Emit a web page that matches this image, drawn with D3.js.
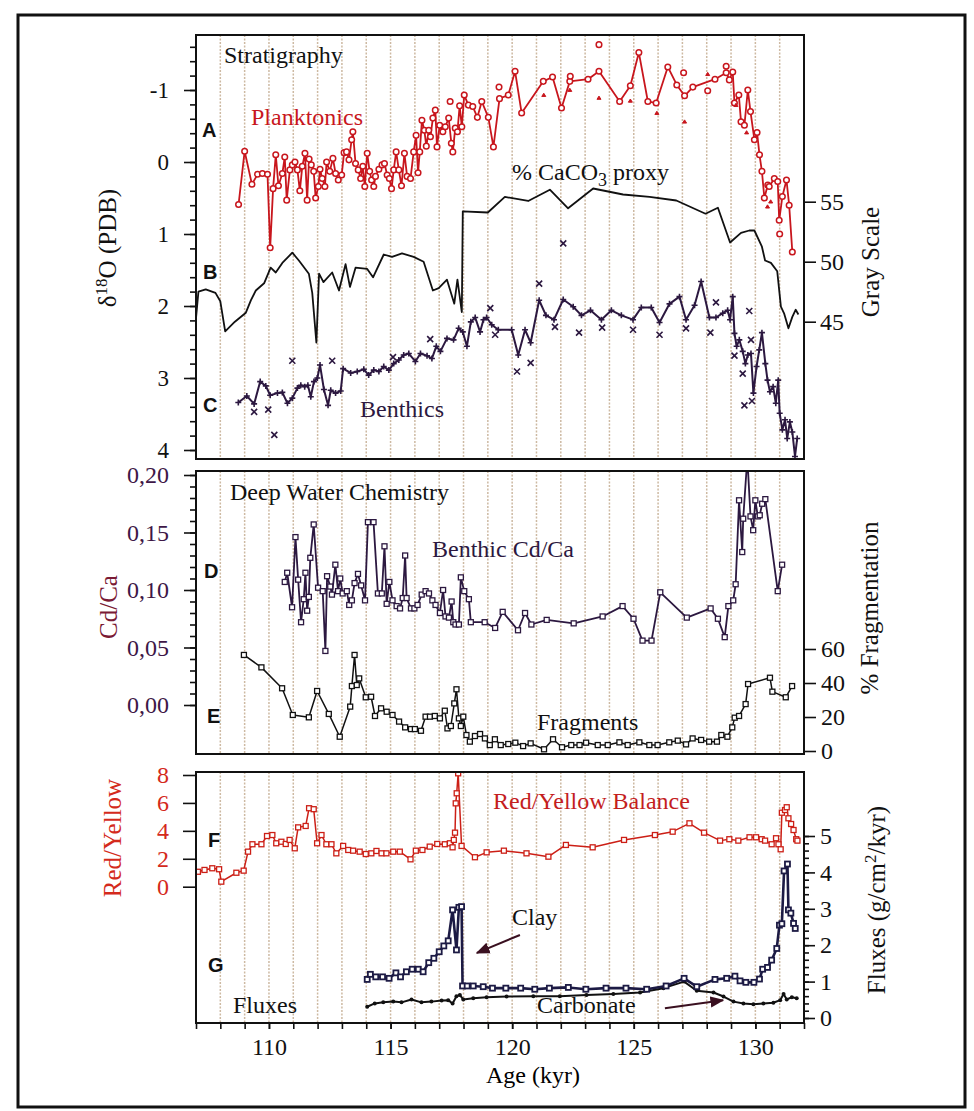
<!DOCTYPE html>
<html>
<head>
<meta charset="utf-8">
<script src="https://cdn.jsdelivr.net/npm/d3@7"></script>
<style>
    body { margin: 0; background: #fff; }
    svg { display: block; }
    text { font-family: "Liberation Serif", "Times New Roman", serif; }
</style>
</head>
<body>
<svg id="chart" width="974" height="1111"></svg>
<script>
// A: planktonic d18O
var plankAge = [108.75,109.0,109.3,109.53,109.73,109.94,110.05,110.17,110.28,110.39,110.55,110.65,110.73,110.86,110.96,111.07,111.17,111.27,111.37,111.48,111.57,111.65,111.74,111.84,111.92,112.03,112.1,112.19,112.3,112.37,112.5,112.63,112.74,112.85,112.99,113.09,113.19,113.29,113.4,113.45,113.56,113.67,113.77,113.86,113.94,114.04,114.14,114.22,114.31,114.38,114.52,114.65,114.75,114.86,114.95,115.04,115.13,115.23,115.34,115.45,115.57,115.68,115.82,115.95,116.05,116.13,116.2,116.29,116.39,116.47,116.57,116.64,116.74,116.84,116.91,117.02,117.15,117.25,117.39,117.5,117.56,117.66,117.75,117.84,117.93,118.03,118.2,118.38,118.57,118.75,119.02,119.23,119.48,119.84,120.12,120.39,121.28,121.66,122.03,122.37,123.12,123.57,124.42,124.86,125.21,125.58,125.92,126.4,126.77,127.09,127.43,128.34,128.8,128.93,129.07,129.14,129.32,129.41,129.55,129.69,129.8,129.96,130.07,130.17,130.27,130.37,130.51,130.57,130.78,130.92,130.98,131.11,131.28,131.39,131.52];
var plankVal = [0.59,-0.15,0.31,0.17,0.16,0.17,1.19,0.37,-0.1,0.33,0.16,-0.07,0.53,0.11,0.04,0.0,0.11,0.4,0.06,-0.12,0.53,-0.04,0.04,0.13,0.5,0.34,0.1,0.23,0.34,0.0,0.13,-0.05,0.16,0.25,0.18,-0.13,-0.14,-0.03,-0.31,-0.42,0.02,0.11,0.23,0.06,0.34,-0.12,0.13,0.25,0.34,0.2,0.1,0.04,0.02,0.18,0.23,0.37,0.11,-0.14,0.11,0.33,-0.12,0.2,0.23,-0.14,-0.37,0.15,-0.14,-0.58,-0.44,-0.22,-0.44,-0.35,-0.61,-0.72,-0.21,-0.51,-0.42,-0.49,-0.61,-0.26,-0.14,-0.47,-0.42,-0.78,-0.49,-0.93,-0.79,-0.77,-0.62,-0.84,-0.62,-0.21,-0.88,-0.93,-1.26,-0.68,-1.12,-1.18,-0.75,-1.12,-1.15,-1.26,-0.84,-1.06,-1.52,-0.84,-0.82,-1.32,-1.07,-0.92,-1.04,-1.15,-1.24,-1.14,-1.25,-0.82,-0.93,-0.56,-0.51,-1.0,-0.7,-0.31,-0.41,-0.1,0.13,0.5,0.32,0.34,0.23,0.27,0.81,0.48,0.25,0.6,1.25];
var plankRepAge = [117.45,119.46,122.39,123.57,127.05,128.04,128.8,131.0];
var plankRepVal = [-0.84,-1.04,-1.19,-1.63,-1.24,-0.99,-1.33,1.0];
var plankTriAge = [121.3,122.37,123.57,124.86,125.95,127.09,128.04,129.2,129.64,130.5,130.63];
var plankTriVal = [-0.93,-1.0,-0.89,-0.85,-0.68,-0.56,-1.22,-0.79,-0.41,0.62,0.55];

// B: gray scale (% CaCO3 proxy)
var grayAge = [107.0,107.1,107.4,107.8,108.0,108.2,108.6,109.05,109.26,109.46,109.8,110.07,110.28,110.55,110.96,111.23,111.64,111.78,111.95,112.06,112.24,112.6,112.88,113.15,113.33,113.56,114.04,114.28,114.72,115.06,115.47,115.95,116.36,116.74,116.98,117.32,117.62,117.75,117.93,117.97,119.0,119.7,120.66,121.55,122.3,123.33,124.56,125.65,126.75,127.95,128.46,128.96,129.41,129.75,129.96,130.27,130.4,130.64,130.9,131.05,131.18,131.36,131.52,131.66,131.77];
var grayVal = [45.3,47.5,47.7,47.4,46.7,44.2,45.0,45.75,46.8,47.6,48.2,49.5,49.1,49.9,50.75,50.1,49.0,47.4,43.25,49.0,48.3,49.1,47.6,49.8,47.9,49.5,49.4,48.7,50.6,50.4,50.7,50.4,50.0,47.6,47.8,48.5,46.5,48.5,45.8,54.2,54.1,55.4,55.06,56.0,54.45,56.1,55.6,55.4,55.1,54.0,54.5,51.6,52.4,52.6,52.6,51.25,50.1,49.9,49.2,46.25,45.7,44.45,45.4,46.0,45.6];

// C: benthic d18O
var benthAge = [108.74,109.09,109.39,109.64,109.87,110.05,110.35,110.55,110.76,110.96,111.17,111.31,111.47,111.6,111.72,111.85,111.99,112.1,112.26,112.43,112.54,112.74,112.95,113.05,113.36,113.63,113.9,114.1,114.31,114.52,114.72,114.93,115.13,115.34,115.54,115.75,116.02,116.23,116.5,116.7,116.88,117.05,117.32,117.59,117.8,117.97,118.14,118.3,118.48,118.68,118.82,118.95,119.16,119.43,119.98,120.25,120.53,120.76,121.11,121.39,121.72,122.1,122.51,122.85,123.22,123.67,124.08,124.49,124.97,125.31,125.72,126.06,126.47,126.88,127.15,127.5,127.77,128.11,128.38,128.66,128.86,128.96,129.07,129.14,129.23,129.34,129.48,129.59,129.69,129.82,129.92,130.05,130.16,130.27,130.41,130.5,130.6,130.73,130.84,130.94,131.0,131.11,131.22,131.31,131.42,131.52,131.63,131.72];
var benthVal = [3.34,3.25,3.36,3.05,3.11,3.24,3.21,3.2,3.35,3.28,3.14,3.1,3.12,3.1,3.26,3.05,3.0,2.82,3.16,3.38,3.17,3.21,3.18,2.87,2.93,2.91,2.88,2.96,2.89,2.91,2.84,2.89,2.8,2.75,2.68,2.66,2.77,2.66,2.69,2.73,2.56,2.63,2.45,2.47,2.31,2.36,2.56,2.22,2.16,2.36,2.19,2.16,2.26,2.33,2.33,2.68,2.33,2.51,1.92,2.13,2.19,1.91,2.01,2.13,2.06,2.19,2.06,2.13,2.19,2.02,2.02,2.23,1.97,1.87,2.19,1.99,1.66,2.16,2.16,2.1,2.06,2.19,1.87,2.38,2.56,2.47,2.63,2.8,2.68,2.66,3.21,2.84,2.61,2.37,2.8,3.03,3.19,3.12,3.35,3.03,3.49,3.72,3.58,3.84,3.61,3.75,4.09,3.84];
var benthRepAge = [109.39,109.97,110.22,110.96,112.6,115.1,116.63,119.1,119.3,120.2,120.76,121.11,121.76,122.1,122.75,123.7,124.97,126.06,127.15,128.15,128.38,129.14,129.48,129.55,129.75,129.82,129.86];
var benthRepVal = [3.47,3.44,3.79,2.76,2.76,2.71,2.46,2.03,2.4,2.91,2.79,1.69,2.29,1.13,2.37,2.3,2.33,2.4,2.31,2.37,1.95,2.69,2.94,3.38,2.07,2.47,3.32];

// D: benthic Cd/Ca
var cdcaAge = [110.65,110.75,110.95,111.09,111.2,111.32,111.43,111.5,111.57,111.64,111.7,111.84,112.02,112.21,112.32,112.39,112.52,112.59,112.73,112.84,112.93,113.03,113.2,113.3,113.41,113.52,113.66,113.79,113.95,114.07,114.3,114.48,114.64,114.75,114.84,114.95,115.08,115.25,115.39,115.5,115.6,115.66,115.84,115.98,116.11,116.28,116.44,116.58,116.72,116.85,117.03,117.16,117.26,117.4,117.51,117.58,117.67,117.81,117.89,118.03,118.22,118.3,118.87,119.3,119.61,120.24,120.53,120.79,121.42,122.53,123.72,124.54,124.99,125.36,125.73,126.09,127.18,128.16,128.46,128.74,128.89,129.09,129.19,129.33,129.46,129.5,129.67,129.8,129.91,130.0,130.1,130.18,130.28,130.41,130.92,131.1];
var cdcaVal = [0.107,0.115,0.085,0.146,0.109,0.072,0.092,0.115,0.082,0.094,0.128,0.157,0.102,0.099,0.047,0.112,0.103,0.096,0.122,0.099,0.11,0.097,0.099,0.087,0.091,0.106,0.114,0.104,0.091,0.159,0.159,0.097,0.097,0.138,0.088,0.107,0.091,0.086,0.084,0.093,0.13,0.093,0.084,0.084,0.087,0.096,0.099,0.097,0.091,0.087,0.08,0.1,0.077,0.076,0.09,0.072,0.07,0.07,0.111,0.099,0.092,0.072,0.072,0.067,0.081,0.065,0.08,0.07,0.074,0.071,0.077,0.086,0.075,0.056,0.056,0.098,0.076,0.084,0.075,0.059,0.086,0.091,0.105,0.178,0.133,0.162,0.215,0.164,0.152,0.178,0.164,0.165,0.175,0.179,0.099,0.122];

// E: % fragmentation
var fragAge = [108.97,109.69,110.54,110.98,111.64,111.98,112.46,112.91,113.34,113.41,113.52,113.61,113.71,113.98,114.2,114.36,114.61,114.84,115.08,115.35,115.6,115.84,116.0,116.25,116.44,116.62,116.82,117.03,117.23,117.34,117.48,117.62,117.71,117.81,117.89,117.99,118.12,118.26,118.47,118.68,118.88,119.08,119.29,119.53,119.84,120.13,120.45,120.76,121.31,121.68,122.05,122.43,122.77,123.04,123.52,123.93,124.41,124.75,125.23,125.64,125.98,126.46,126.81,127.15,127.42,127.77,128.1,128.42,128.6,128.85,129.05,129.15,129.33,129.6,129.7,130.6,130.7,131.25,131.51];
var fragVal = [56.5,49.2,36.9,21.2,19.8,35.3,21.8,8.4,26.1,38.2,56.5,38.8,42.7,31.6,31.9,20.6,25.1,23.1,21.2,17.3,13.9,12.9,12.9,11.9,20.2,20.2,20.6,19.2,23.7,13.3,14.7,28.0,36.3,19.2,14.7,20.2,9.4,5.5,8.8,10.0,7.4,3.5,6.9,3.5,4.1,4.9,2.9,4.5,1.0,6.9,2.2,3.5,3.5,4.9,3.5,3.5,5.1,3.5,5.1,3.5,3.5,5.1,6.1,3.9,7.4,6.5,5.5,5.5,9.4,8.4,13.9,19.6,20.6,27.6,39.4,43.1,34.9,31.6,38.2];

// F: red/yellow balance
var ryAge = [107.08,107.35,107.67,107.95,108.04,108.66,108.96,109.14,109.32,109.69,109.92,110.14,110.3,110.51,110.69,110.85,111.06,111.2,111.51,111.65,111.84,111.98,112.16,112.36,112.57,112.77,113.05,113.26,113.46,113.73,113.98,114.21,114.42,114.63,114.83,115.11,115.38,115.82,116.04,116.31,116.61,116.92,117.23,117.44,117.55,117.6,117.65,117.68,117.72,117.78,117.92,118.47,118.95,119.66,120.59,121.49,122.21,123.31,124.6,125.87,126.6,127.29,127.89,128.55,128.93,129.3,129.76,130.03,130.26,130.4,130.67,130.85,130.95,131.04,131.09,131.22,131.29,131.36,131.47,131.57,131.68,131.73];
var ryVal = [1.07,1.2,1.32,1.25,0.36,1.0,1.15,2.51,3.04,3.04,3.63,3.7,3.11,3.22,3.06,3.35,2.75,4.25,4.35,5.62,5.55,3.11,3.7,3.04,3.04,2.39,2.92,2.63,2.58,2.51,2.34,2.39,2.56,2.39,2.39,2.51,2.51,1.96,2.58,2.63,2.87,3.06,3.04,3.11,2.82,3.35,3.87,5.97,6.69,8.12,2.92,2.11,2.46,2.58,2.39,2.15,2.99,2.82,3.35,3.7,3.94,4.54,3.87,3.3,3.4,3.3,3.54,3.54,3.4,3.3,3.04,3.47,3.04,2.68,5.3,5.49,5.69,4.9,4.49,4.06,3.4,3.3];

// G: fluxes (g/cm2/kyr)
var clayAge = [114.04,114.17,114.39,114.67,114.94,115.22,115.41,115.65,115.89,116.14,116.34,116.57,116.78,117.0,117.19,117.37,117.55,117.71,117.81,117.92,117.96,118.15,118.4,118.81,119.19,119.74,120.35,120.93,121.53,122.31,123.03,123.86,124.68,125.53,126.33,127.07,127.59,128.34,128.82,129.16,129.37,129.61,129.94,130.17,130.3,130.5,130.67,130.88,130.99,131.09,131.18,131.32,131.36,131.46,131.57,131.64];
var clayVal = [1.06,1.2,1.13,1.13,1.09,1.24,1.13,1.27,1.34,1.34,1.27,1.52,1.64,1.82,1.98,2.12,2.97,1.87,3.04,3.06,0.88,0.88,0.88,0.86,0.82,0.82,0.82,0.79,0.82,0.84,0.79,0.82,0.82,0.79,0.88,1.09,0.86,1.06,1.09,1.15,1.02,0.98,0.98,1.07,1.34,1.39,1.59,1.91,2.55,2.59,4.04,4.23,2.97,2.88,2.6,2.46];
var carbAge = [114.04,114.35,114.7,115.11,115.45,115.86,116.27,116.68,117.1,117.37,117.55,117.71,117.85,117.99,118.4,118.95,119.77,120.87,121.96,123.06,124.16,125.26,126.22,127.07,127.59,128.28,128.69,129.1,129.51,129.92,130.33,130.74,131.02,131.16,131.29,131.5,131.7];
var carbVal = [0.31,0.4,0.43,0.45,0.43,0.51,0.43,0.45,0.48,0.49,0.4,0.6,0.63,0.51,0.54,0.57,0.59,0.6,0.6,0.63,0.66,0.7,0.82,1.0,0.75,0.7,0.59,0.45,0.4,0.38,0.4,0.42,0.49,0.66,0.51,0.57,0.54];

var red = "#c8161d",
    purple = "#2c1840",
    navy = "#1c1a44";

var svg = d3.select("#chart");
var plotLeft = 196, plotRight = 804;
var panels = [
    { id: "p1", top: 35, bottom: 459 },
    { id: "p2", top: 471, bottom: 754 },
    { id: "p3", top: 772, bottom: 1023 }
];

var x = d3.scaleLinear().domain([107, 132]).range([plotLeft, plotRight]);
var yIso = d3.scaleLinear().domain([-1, 4]).range([90, 450]);
var yGray = d3.scaleLinear().domain([45, 55]).range([321.7, 201.7]);
var yCd = d3.scaleLinear().domain([0, 0.2]).range([705, 475]);
var yFrag = d3.scaleLinear().domain([0, 60]).range([751, 649]);
var yRY = d3.scaleLinear().domain([0, 8]).range([886.7, 775]);
var yFlux = d3.scaleLinear().domain([0, 5]).range([1018, 836]);

// outer frame
svg.append("rect")
    .attr("x", 18).attr("y", 15)
    .attr("width", 947).attr("height", 1092)
    .attr("fill", "none")
    .attr("stroke", "#111")
    .attr("stroke-width", 3);

var defs = svg.append("defs");
panels.forEach(function (p) {
    defs.append("clipPath").attr("id", "clip-" + p.id)
        .append("rect")
        .attr("x", plotLeft).attr("y", p.top)
        .attr("width", plotRight - plotLeft).attr("height", p.bottom - p.top);

    // dotted age grid, one line per kyr
    svg.append("g").selectAll("line")
        .data(d3.range(108, 132))
        .enter()
        .append("line")
        .attr("x1", function (d) { return x(d); })
        .attr("x2", function (d) { return x(d); })
        .attr("y1", p.top)
        .attr("y2", p.bottom)
        .attr("stroke", "#cdb9a2")
        .attr("stroke-width", 1.5)
        .attr("stroke-dasharray", "2,1.5");
});

defs.append("marker")
    .attr("id", "arrow")
    .attr("viewBox", "0 0 10 10")
    .attr("refX", 9).attr("refY", 5)
    .attr("markerWidth", 7).attr("markerHeight", 7)
    .attr("orient", "auto")
    .append("path")
    .attr("d", "M0,1L10,5L0,9z")
    .attr("fill", "#3a1020");

function drawSeries(panel, ages, vals, y, st) {
    var pts = d3.zip(ages, vals);
    var g = svg.append("g").attr("clip-path", "url(#clip-" + panel + ")");
    var px = function (d) { return x(d[0]); },
        py = function (d) { return y(d[1]); };

    if (st.width) {
        g.append("path")
            .datum(pts)
            .attr("fill", "none")
            .attr("stroke", st.color)
            .attr("stroke-width", st.width)
            .attr("stroke-linejoin", "round")
            .attr("d", d3.line().x(px).y(py));
    }
    var m = g.selectAll(".mk").data(pts).enter();
    if (st.marker === "circle") {
        m.append("circle")
            .attr("cx", px).attr("cy", py).attr("r", 2.8)
            .attr("fill", "#fff").attr("stroke", st.color).attr("stroke-width", 1.5);
    } else if (st.marker === "square") {
        m.append("rect")
            .attr("x", function (d) { return px(d) - 2.5; })
            .attr("y", function (d) { return py(d) - 2.5; })
            .attr("width", 5).attr("height", 5)
            .attr("fill", "#fff").attr("stroke", st.color).attr("stroke-width", st.mw || 1.3);
    } else if (st.marker === "dot") {
        m.append("circle")
            .attr("cx", px).attr("cy", py).attr("r", 2)
            .attr("fill", st.color);
    } else if (st.marker) {
        var shapes = {
            plus: "M-3,0H3M0,-3V3",
            cross: "M-3,-3L3,3M-3,3L3,-3",
            tri: "M0,-1.8L2,1.4H-2Z"
        };
        m.append("path")
            .attr("transform", function (d) { return "translate(" + px(d) + "," + py(d) + ")"; })
            .attr("d", shapes[st.marker])
            .attr("fill", st.color)
            .attr("stroke", st.color)
            .attr("stroke-width", st.marker === "tri" ? 1 : 1.6);
    }
}

// panel 1
drawSeries("p1", grayAge, grayVal, yGray, { color: "#111", width: 1.8 });
drawSeries("p1", plankAge, plankVal, yIso, { color: red, width: 1.8, marker: "circle" });
drawSeries("p1", plankRepAge, plankRepVal, yIso, { color: red, marker: "circle" });
drawSeries("p1", plankTriAge, plankTriVal, yIso, { color: red, marker: "tri" });
drawSeries("p1", benthRepAge, benthRepVal, yIso, { color: purple, marker: "cross" });
drawSeries("p1", benthAge, benthVal, yIso, { color: purple, width: 2, marker: "plus" });

// panel 2
drawSeries("p2", cdcaAge, cdcaVal, yCd, { color: purple, width: 1.8, marker: "square" });
drawSeries("p2", fragAge, fragVal, yFrag, { color: "#111", width: 1.5, marker: "square" });

// panel 3
drawSeries("p3", ryAge, ryVal, yRY, { color: "#cc1f16", width: 1.5, marker: "square" });
drawSeries("p3", carbAge, carbVal, yFlux, { color: "#111", width: 2, marker: "dot" });
drawSeries("p3", clayAge, clayVal, yFlux, { color: navy, width: 2.6, marker: "square", mw: 1.8 });

// panel frames
panels.forEach(function (p) {
    svg.append("rect")
        .attr("x", plotLeft).attr("y", p.top)
        .attr("width", plotRight - plotLeft).attr("height", p.bottom - p.top)
        .attr("fill", "none")
        .attr("stroke", "#111")
        .attr("stroke-width", 2);
});

function addAxis(axis, tx, ty, color, size) {
    var g = svg.append("g")
        .attr("transform", "translate(" + tx + "," + ty + ")")
        .call(axis);
    g.select(".domain").remove();
    g.selectAll(".tick line").attr("stroke", "#111").attr("stroke-width", 1.6);
    g.selectAll(".tick text")
        .attr("fill", color || "#111")
        .style("font-family", "'Liberation Serif', 'Times New Roman', serif")
        .style("font-size", (size || 24) + "px");
    return g;
}

var plain = function (d) { return String(d); };
var comma = function (d) { return d3.format(".2f")(d).replace(".", ","); };

// left axes
addAxis(d3.axisLeft(yIso).tickValues(d3.range(-8, 21).map(function (i) { return i * 0.2; })).tickSize(6).tickFormat(""), plotLeft, 0);
addAxis(d3.axisLeft(yIso).tickValues(d3.range(-1, 5)).tickSize(12).tickPadding(15).tickFormat(plain), plotLeft, 0, "#111", 23);
addAxis(d3.axisLeft(yCd).tickValues(d3.range(0, 21).map(function (i) { return i * 0.01; })).tickSize(6).tickFormat(""), plotLeft, 0);
addAxis(d3.axisLeft(yCd).tickValues([0, 0.05, 0.1, 0.15, 0.2]).tickSize(12).tickPadding(15).tickFormat(comma), plotLeft, 0, "#3e1747");
addAxis(d3.axisLeft(yRY).tickValues([0, 2, 4, 6, 8]).tickSize(13).tickPadding(14).tickFormat(plain), plotLeft, 0, "#d42a1c");

// right axes
addAxis(d3.axisRight(yGray).tickValues([45, 50, 55]).tickSize(12).tickPadding(4).tickFormat(plain), plotRight, 0);
addAxis(d3.axisRight(yFrag).tickValues([0, 20, 40, 60]).tickSize(12).tickPadding(5).tickFormat(plain), plotRight, 0);
addAxis(d3.axisRight(yFlux).tickValues(d3.range(0, 26).map(function (i) { return i * 0.2; })).tickSize(5).tickFormat(""), plotRight, 0);
addAxis(d3.axisRight(yFlux).tickValues(d3.range(0, 6)).tickSize(11).tickPadding(5).tickFormat(plain), plotRight, 0);

// bottom age axis
addAxis(d3.axisBottom(x).tickValues(d3.range(107, 133)).tickSize(6).tickFormat(""), 0, panels[2].bottom);
addAxis(d3.axisBottom(x).tickValues([110, 115, 120, 125, 130]).tickSize(6).tickPadding(9).tickFormat(plain), 0, panels[2].bottom);

// labels inside panels
function label(txt, lx, ly, color, size) {
    return svg.append("text")
        .attr("x", lx).attr("y", ly)
        .attr("fill", color || "#111")
        .style("font-size", (size || 24) + "px")
        .text(txt);
}
function letter(txt, lx, ly) {
    return svg.append("text")
        .attr("x", lx).attr("y", ly)
        .attr("fill", "#111")
        .style("font-family", "'Liberation Sans', Arial, sans-serif")
        .style("font-weight", "bold")
        .style("font-size", "20px")
        .text(txt);
}

label("Stratigraphy", 224, 63);
label("Planktonics", 251, 125, red);
label("Benthics", 360, 417, purple);
label("Deep Water Chemistry", 230, 500);
label("Benthic Cd/Ca", 432, 557, purple);
label("Fragments", 537, 730);
label("Red/Yellow Balance", 493, 809, "#c41e1e");
label("Clay", 512, 925);
label("Carbonate", 537, 1013);
label("Fluxes", 233, 1013);

var caco = label("% CaCO", 512, 180);
caco.append("tspan").attr("dy", 6).style("font-size", "18px").text("3");
caco.append("tspan").attr("dy", -6).text(" proxy");

letter("A", 202, 137);
letter("B", 203, 279);
letter("C", 203, 412);
letter("D", 204, 578);
letter("E", 207, 723);
letter("F", 208, 847);
letter("G", 208, 972);

svg.append("text")
    .attr("x", 533).attr("y", 1083)
    .attr("text-anchor", "middle")
    .style("font-size", "24px")
    .text("Age (kyr)");

// rotated axis titles
function vtitle(lx, ly, color) {
    return svg.append("text")
        .attr("transform", "translate(" + lx + "," + ly + ") rotate(-90)")
        .attr("text-anchor", "middle")
        .attr("fill", color || "#111")
        .style("font-size", "25px");
}

var iso = vtitle(116, 248);
iso.append("tspan").text("\u03b4");
iso.append("tspan").attr("dy", -9).style("font-size", "17px").text("18");
iso.append("tspan").attr("dy", 9).text("O (PDB)");

vtitle(879, 262).text("Gray Scale");
vtitle(117, 607, "#7a1a35").text("Cd/Ca");
vtitle(878, 608).text("% Fragmentation");
vtitle(121, 838, "#d42a1c").text("Red/Yellow");

var flux = vtitle(885, 900);
flux.append("tspan").text("Fluxes (g/cm");
flux.append("tspan").attr("dy", -9).style("font-size", "17px").text("2");
flux.append("tspan").attr("dy", 9).text("/kyr)");

// arrows pointing at the flux curves
var arrows = [
    { from: [120.32, 2.28], to: [118.55, 1.79] },
    { from: [126.28, 0.27], to: [128.67, 0.49] }
];
svg.selectAll(".arrow")
    .data(arrows)
    .enter()
    .append("line")
    .attr("x1", function (d) { return x(d.from[0]); })
    .attr("y1", function (d) { return yFlux(d.from[1]); })
    .attr("x2", function (d) { return x(d.to[0]); })
    .attr("y2", function (d) { return yFlux(d.to[1]); })
    .attr("stroke", "#3a1020")
    .attr("stroke-width", 2)
    .attr("marker-end", "url(#arrow)");
</script>
</body>
</html>
